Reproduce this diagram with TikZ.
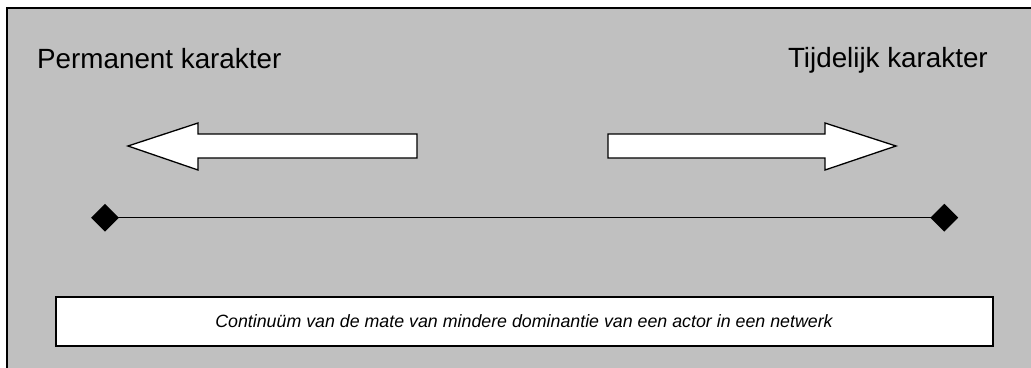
\documentclass[tikz,border=0pt]{standalone}
\usepackage{fontspec}
\setmainfont{Liberation Sans}
\usetikzlibrary{shapes.geometric}
\definecolor{panelgray}{RGB}{192,192,192}
\tikzset{
  bigarrow/.style={fill=white, draw=black, line width=1.3pt, line join=miter},
  endmark/.style={diamond, fill=black, draw=none, minimum width=28pt, minimum height=28pt, inner sep=0pt},
  biglabel/.style={inner sep=0pt, font=\fontsize{27.8}{33}\selectfont},
  capbox/.style={draw=black, fill=white, line width=1.3pt}
}
\begin{document}
\begin{tikzpicture}[x=1pt, y=-1pt]
\useasboundingbox (0,0) rectangle (1031,367);
\clip (0,0) rectangle (1031,367);
% panel
\draw[fill=panelgray, line width=2pt] (7,8) rectangle (1045,385);
% labels
\node[biglabel, anchor=base west] (perm) at (37,68) {Permanent karakter};
\node[biglabel, anchor=base east] (tijd) at (988,67) {Tijdelijk karakter};
% left arrow
\draw[bigarrow] (128,146) -- (198,123) -- (198,134) -- (417,134) -- (417,158) -- (198,158) -- (198,170) -- cycle;
% right arrow
\draw[bigarrow] (896,146) -- (825,123) -- (825,134) -- (608,134) -- (608,158) -- (825,158) -- (825,170) -- cycle;
% continuum line
\node[endmark] (l) at (105,217.7) {};
\node[endmark] (r) at (944.3,217.7) {};
\draw[line width=1.4pt] (l.center) -- (r.center);
% caption box
\draw[capbox] (56,297) rectangle (993,346);
\node[inner sep=0pt, anchor=base, font=\fontsize{17.8}{21}\selectfont\itshape] (cap) at (524,327) {Continuüm van de mate van mindere dominantie van een actor in een netwerk};
\end{tikzpicture}
\end{document}
